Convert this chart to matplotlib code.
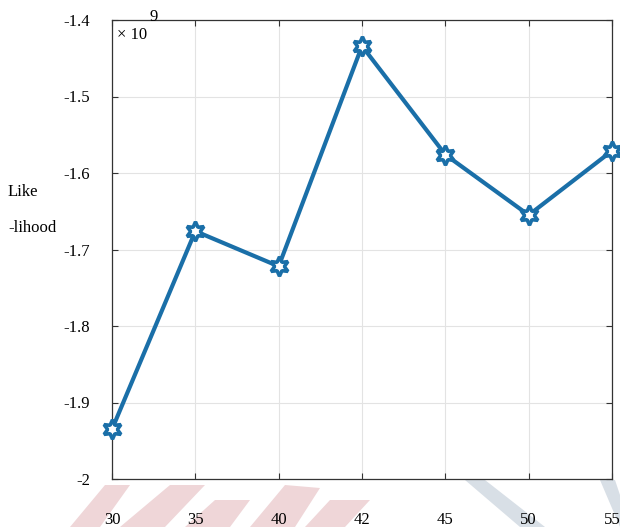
import numpy as np
import matplotlib.pyplot as plt
from matplotlib.patches import Polygon

plt.rcParams['font.family'] = ['Liberation Serif', 'DejaVu Serif']

# cluster counts (shown as categorical ticks) and log-likelihood in units of 1e9
clusters = ['30', '35', '40', '42', '45', '50', '55']
loglik = [-1.935, -1.676, -1.722, -1.434, -1.576, -1.655, -1.571]
yticks = [-2, -1.9, -1.8, -1.7, -1.6, -1.5, -1.4]
ytick_labels = ['-2', '-1.9', '-1.8', '-1.7', '-1.6', '-1.5', '-1.4']

fig = plt.figure(figsize=(6.2, 5.27), dpi=100)

# faint background shapes along the bottom edge
pink = '#efd6d8'
blue = '#d8dfe6'
shapes = [
    ([(70, 527), (105, 485), (130, 485), (100, 527)], pink),
    ([(120, 527), (170, 485), (205, 485), (165, 527)], pink),
    ([(185, 527), (215, 500), (250, 500), (230, 527)], pink),
    ([(250, 527), (285, 485), (320, 488), (295, 527)], pink),
    ([(305, 527), (330, 500), (370, 500), (345, 527)], pink),
    ([(465, 480), (485, 480), (545, 527), (520, 527)], blue),
    ([(600, 480), (615, 480), (620, 495), (620, 527)], blue),
]
for pts, col in shapes:
    xy = [(x / 620, 1 - y / 527) for x, y in pts]
    fig.patches.append(Polygon(xy, closed=True, transform=fig.transFigure,
                               facecolor=col, edgecolor='none', zorder=-5))

ax = fig.add_axes([112 / 620, 1 - 479 / 527, 500 / 620, 459 / 527])
ax.patch.set_alpha(0)

x = np.arange(len(clusters))
ax.plot(x, loglik, color='#1a6fa8', linewidth=3.0,
        marker=(6, 1, 0), markersize=14, markerfacecolor='white',
        markeredgecolor='#1a6fa8', markeredgewidth=2.6, clip_on=False, zorder=3)

ax.set_xlim(0, len(clusters) - 1)
ax.set_ylim(-2, -1.4)
ax.set_xticks(x)
ax.set_xticklabels(clusters, fontsize=12)
ax.set_yticks(yticks)
ax.set_yticklabels(ytick_labels, fontsize=12)
ax.tick_params(direction='in', length=4, width=0.8, color='#333333',
               top=True, right=True)
ax.tick_params(axis='y', pad=16)
ax.tick_params(axis='x', pad=24)
ax.grid(True, color='#e3e3e3', linewidth=0.8)
for s in ax.spines.values():
    s.set_color('#333333')
    s.set_linewidth(0.9)

# horizontal y-axis label, left aligned
fig.text(8 / 620, 1 - 210 / 527, 'Like\n\n-lihood', ha='left', va='center',
         multialignment='left', fontsize=12, linespacing=1.2)

# exponent marker
ax.text(0.01, 0.985, '× 10', transform=ax.transAxes, ha='left', va='top', fontsize=12)
ax.text(0.074, 0.99, '9', transform=ax.transAxes, ha='left', va='bottom', fontsize=12)

fig.savefig('out.png', dpi=100)
